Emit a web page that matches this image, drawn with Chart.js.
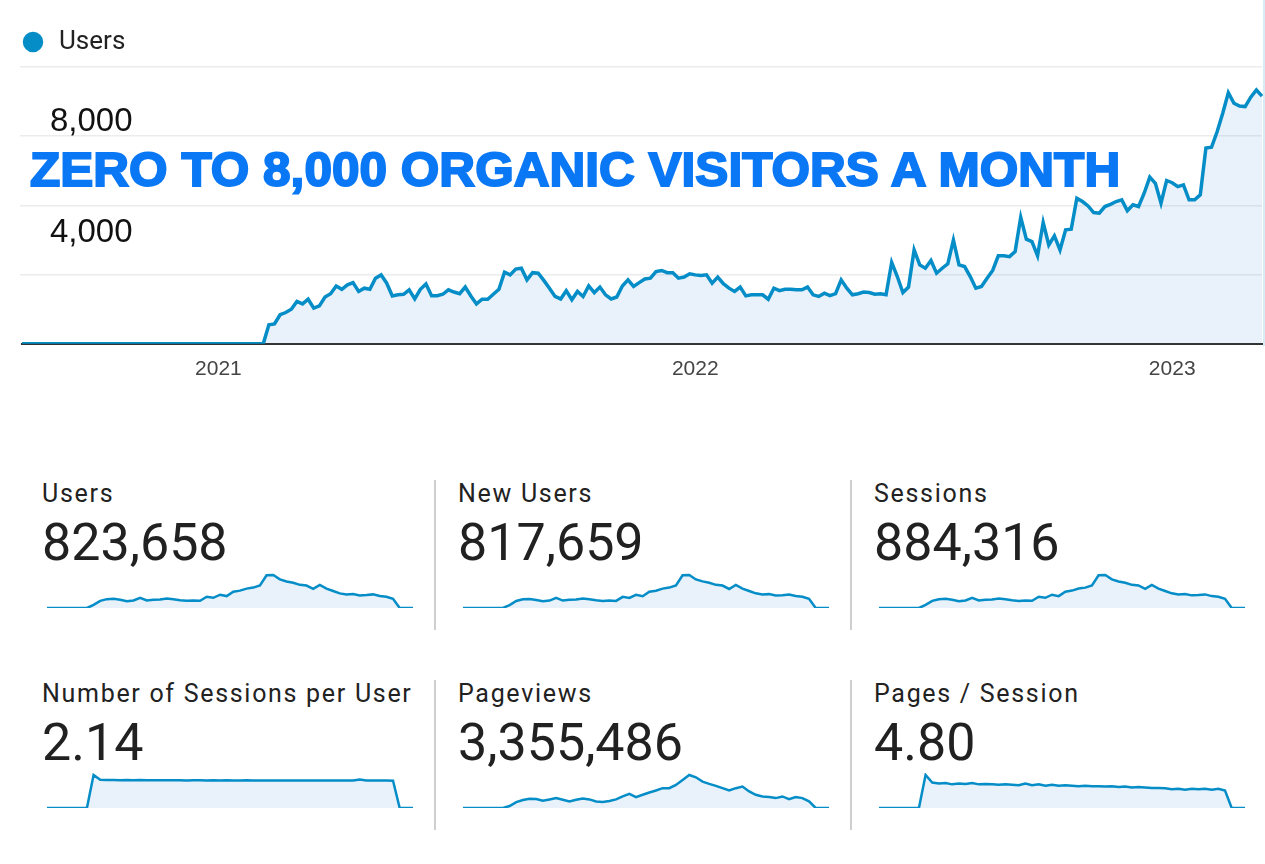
<!DOCTYPE html>
<html>
<head>
<meta charset="utf-8">
<title>Users - organic growth</title>
<script src="https://cdn.jsdelivr.net/npm/chart.js@4.4.1/dist/chart.umd.min.js"></script>
<style>
  body { margin: 0; background: #fff; width: 1265px; height: 864px; overflow: hidden; position: relative; font-family: Roboto, "Noto Sans", sans-serif; }
  #mainChart { position: absolute; left: 0; top: 0; }
  #headline { position: absolute; left: 30px; top: 145px; font: bold 49px "Liberation Sans", Arial, sans-serif; line-height: 1; color: #0a78f5; -webkit-text-stroke: 2px #0a78f5; white-space: nowrap; transform-origin: 0 0; }
  .edge { position: absolute; left: 1263px; top: 0; width: 2px; height: 346px; background: #d8ecf8; }
  .name { position: absolute; font-size: 25px; line-height: 25px; letter-spacing: 1.7px; color: #222; white-space: nowrap; }
  .total { position: absolute; font-size: 52px; line-height: 52px; color: #212121; white-space: nowrap; }
  .divider { position: absolute; width: 2px; height: 150px; background: #cfcfcf; }
  .spark { position: absolute; }
</style>
</head>
<body>
<!-- canvas is a little wider than the page so the plot can reach the right edge -->
<canvas id="mainChart" width="1275" height="400"></canvas>
<div class="edge"></div>
<div id="headline">ZERO TO 8,000 ORGANIC VISITORS A MONTH</div>
<div id="cards"></div>
<script>
// main chart: users per point
const users = [
  0, 0, 0, 0, 0, 0, 0, 0, 0, 0, 0, 0, 0, 0, 0, 0, 0, 0, 0, 0, 0, 0,
  0, 0, 0, 0, 0, 0, 0, 0, 0, 0, 0, 0, 0, 0, 0, 0, 0, 0, 0, 0, 0,
  0, 690, 720, 1050, 1130, 1250, 1530, 1440, 1610, 1290, 1370, 1690, 1810, 2090, 1970, 2130, 2210,
  1890, 2010, 1970, 2370, 2490, 2190, 1730, 1770, 1790, 1950, 1620, 1970, 2160, 1740, 1740, 1790,
  1950, 1870, 1810, 2050, 1730, 1440, 1610, 1610, 1790, 1970, 2590, 2490, 2700, 2730, 2310, 2570,
  2550, 2290, 2010, 1710, 1620, 1920, 1590, 1890, 1710, 2090, 1850, 2050, 1770, 1620, 1690, 2090,
  2310, 2070,
  2210, 2340, 2370, 2610, 2650, 2570, 2570, 2370, 2410, 2530, 2490, 2470, 2490, 2190, 2410, 2170,
  2010, 1890, 2050, 1730, 1770, 1770, 1770, 1610, 2010, 1920, 1970, 1970, 1950, 1950, 2050, 1770,
  1710, 1830, 1740, 1810,
  2310, 2010, 1770, 1810, 1870, 1850, 1790, 1810, 1770, 2940, 2430, 1850, 2050, 3390, 2850, 2730,
  3010, 2550, 2730, 2890, 3750, 2850, 2790, 2430, 2010, 2070, 2370, 2650, 3180, 3180, 3150, 3330,
  4570, 3780, 3690, 3180,
  4380, 3570, 3900, 3390, 4120, 4140, 5260, 5140, 4980, 4740, 4720, 4960, 5040, 5140, 5200, 4810,
  5020, 4960, 5440, 6020, 5800, 5080, 5900, 5820, 5680, 5740, 5200, 5200, 5380, 7070, 7100, 7660,
  8330, 9070, 8690, 8590, 8570, 8910, 9170, 8950
];
const yearTickIndex = [35, 120, 205];
const yearTickLabels = ['2021', '2022', '2023'];
const yGridValues = [0, 2500, 5000, 7500, 10000];
const yLabelValues = [4000, 8000];

// summary cards
const cardNames = ['Users', 'New Users', 'Sessions', 'Number of Sessions per User', 'Pageviews', 'Pages / Session'];
const cardTotals = ['823,658', '817,659', '884,316', '2.14', '3,355,486', '4.80'];

const usersSpark = [0, 0, 0, 0, 0, 0, 0,
  135, 315, 390, 405, 360, 300, 330, 450, 330, 360,
  375, 420, 390, 345, 315, 330, 315, 495, 450, 585,
  525, 720, 765, 855, 900, 990, 1440, 1455, 1260, 1170,
  1110, 1020, 990, 840, 1020, 855, 750, 645, 600, 615,
  555, 570, 600, 525, 495, 405, 0, 0, 0];
const newUsersSpark = [0, 0, 0, 0, 0, 0, 0,
  130, 305, 385, 395, 350, 295, 325, 440, 325, 355,
  370, 410, 385, 340, 310, 325, 310, 485, 440, 575,
  515, 710, 755, 845, 890, 980, 1425, 1440, 1245, 1160,
  1100, 1010, 980, 830, 1010, 845, 740, 640, 590, 605,
  550, 560, 590, 520, 490, 400, 0, 0, 0];
const sessionsSpark = [0, 0, 0, 0, 0, 0, 0,
  145, 335, 415, 430, 385, 320, 355, 480, 355, 385,
  400, 450, 415, 370, 335, 355, 340, 530, 480, 625,
  560, 770, 820, 915, 960, 1060, 1540, 1555, 1350, 1250,
  1190, 1090, 1060, 900, 1090, 915, 800, 690, 640, 660,
  595, 610, 640, 560, 530, 435, 0, 0, 0];
const sessionsPerUserSpark = [0, 0, 0, 0, 0, 0, 0,
  2.55, 2.18, 2.16, 2.17, 2.15, 2.16, 2.15, 2.16, 2.14, 2.15,
  2.15, 2.14, 2.15, 2.14, 2.13, 2.14, 2.14, 2.13, 2.14, 2.13,
  2.14, 2.13, 2.13, 2.14, 2.13, 2.12, 2.13, 2.13, 2.12, 2.13,
  2.12, 2.13, 2.12, 2.12, 2.13, 2.12, 2.12, 2.12, 2.13, 2.12,
  2.20, 2.13, 2.12, 2.12, 2.12, 2.11, 0, 0, 0];
const pageviewsSpark = [0, 0, 0, 0, 0, 0, 0,
  300, 900, 1200, 1400, 1350, 1100, 1300, 1500, 1250, 1000,
  1250, 1450, 1300, 1000, 900, 1050, 1300, 1750, 2150, 1650,
  2000, 2350, 2650, 3000, 3000, 3500, 4250, 5000, 4650, 4000,
  3650, 3350, 3000, 2650, 3000, 3250, 2500, 2000, 1750, 1650,
  1500, 1750, 1350, 1650, 1500, 1000, 0, 0, 0];
const pagesPerSessionSpark = [0, 0, 0, 0, 0, 0, 0,
  7.4, 5.7, 5.5, 5.6, 5.3, 5.5, 5.4, 5.6, 5.3, 5.4,
  5.3, 5.2, 5.3, 5.2, 5.1, 5.5, 5.1, 5.3, 5.0, 5.2,
  5.0, 5.1, 5.0, 4.9, 5.0, 4.9, 4.9, 4.8, 4.9, 4.7,
  4.8, 4.6, 4.7, 4.6, 4.5, 4.5, 4.4, 4.2, 4.3, 4.1,
  4.3, 4.2, 4.3, 4.1, 4.3, 3.9, 0, 0, 0];
const cardSeries = [usersSpark, newUsersSpark, sessionsSpark, sessionsPerUserSpark, pageviewsSpark, pagesPerSessionSpark];

const lineBlue = '#058dc7';
const fillBlue = 'rgba(40, 120, 210, 0.1)';

// big users chart
new Chart(document.getElementById('mainChart'), {
  type: 'line',
  data: {
    labels: users.map((v, i) => i),
    datasets: [{
      label: 'Users',
      data: users,
      borderColor: lineBlue,
      borderWidth: 3.5,
      backgroundColor: fillBlue,
      fill: 'origin',
      tension: 0,
      pointRadius: 0,
      pointStyle: 'circle',
      pointBackgroundColor: lineBlue,
      pointBorderColor: lineBlue
    }]
  },
  options: {
    responsive: false,
    animation: false,
    layout: { padding: { left: 20, right: 0, top: 29, bottom: 5 } },
    plugins: {
      legend: {
        align: 'start',
        labels: {
          usePointStyle: true,
          boxWidth: 26,
          boxHeight: 12,
          padding: 0,
          color: '#222',
          font: { family: 'Roboto', size: 26 }
        }
      },
      // spacer between legend and plot
      title: { display: true, text: '', weight: 500, padding: { top: 0, bottom: 1 }, font: { size: 1, lineHeight: 1 } },
      tooltip: { enabled: false }
    },
    scales: {
      x: {
        grid: { display: false, drawTicks: false },
        border: { display: true, color: '#333', width: 2 },
        ticks: {
          autoSkip: false,
          maxRotation: 0,
          padding: 13,
          color: '#444',
          font: { family: 'Liberation Sans', size: 21 },
          callback: function (value, index) {
            const k = yearTickIndex.indexOf(index);
            return k >= 0 ? yearTickLabels[k] : '';
          }
        }
      },
      y: {
        min: 0,
        max: 10000,
        afterBuildTicks: function (axis) {
          axis.ticks = yGridValues.concat(yLabelValues).sort((a, b) => a - b).map(v => ({ value: v }));
        },
        afterFit: function (axis) { axis.width = 2; },
        border: { display: false },
        grid: {
          tickLength: 2,
          lineWidth: 1.5,
          color: function (ctx) {
            return yLabelValues.includes(ctx.tick.value) ? 'rgba(0,0,0,0)' : '#ececec';
          }
        },
        ticks: {
          mirror: true,
          padding: 28,
          color: '#111',
          font: { family: 'Liberation Sans', size: 33 },
          callback: function (value) {
            return yLabelValues.includes(value) ? value.toLocaleString('en-US') : '';
          }
        }
      }
    }
  }
});

// headline over the chart, stretched to the width it has in the screenshot
const headline = document.getElementById('headline');
function fitHeadline() {
  headline.style.transform = 'scaleX(' + (1090 / headline.offsetWidth) + ')';
}
fitHeadline();
if (document.fonts) document.fonts.ready.then(fitHeadline);

// card grid
const colText = [42, 458, 874];
const colSpark = [45, 461, 877];
const rowTop = [480, 680];
const cards = document.getElementById('cards');

function sparkline(canvas, values) {
  new Chart(canvas, {
    type: 'line',
    data: {
      labels: values.map((v, i) => i),
      datasets: [{
        data: values,
        borderColor: lineBlue,
        borderWidth: 2.5,
        backgroundColor: fillBlue,
        fill: 'origin',
        tension: 0,
        pointRadius: 0
      }]
    },
    options: {
      responsive: false,
      animation: false,
      layout: { padding: { left: 2, right: 2, top: 3, bottom: 4 } },
      plugins: { legend: { display: false }, tooltip: { enabled: false } },
      scales: {
        x: { display: false },
        y: { display: false, min: 0, max: Math.max(...values) * 1.06 }
      }
    }
  });
}

cardNames.forEach(function (name, i) {
  const col = i % 3;
  const top = rowTop[Math.floor(i / 3)];

  const label = document.createElement('div');
  label.className = 'name';
  label.style.left = colText[col] + 'px';
  label.style.top = (top + 1) + 'px';
  label.textContent = name;
  cards.appendChild(label);

  const total = document.createElement('div');
  total.className = 'total';
  total.style.left = colText[col] + 'px';
  total.style.top = (top + 37) + 'px';
  total.textContent = cardTotals[i];
  cards.appendChild(total);

  const canvas = document.createElement('canvas');
  canvas.className = 'spark';
  canvas.width = 370;
  canvas.height = 42;
  canvas.style.left = colSpark[col] + 'px';
  canvas.style.top = (top + 90) + 'px';
  cards.appendChild(canvas);
  sparkline(canvas, cardSeries[i]);

  if (col > 0) {
    const div = document.createElement('div');
    div.className = 'divider';
    div.style.left = (colText[col] - 24) + 'px';
    div.style.top = top + 'px';
    cards.appendChild(div);
  }
});
</script>
</body>
</html>
